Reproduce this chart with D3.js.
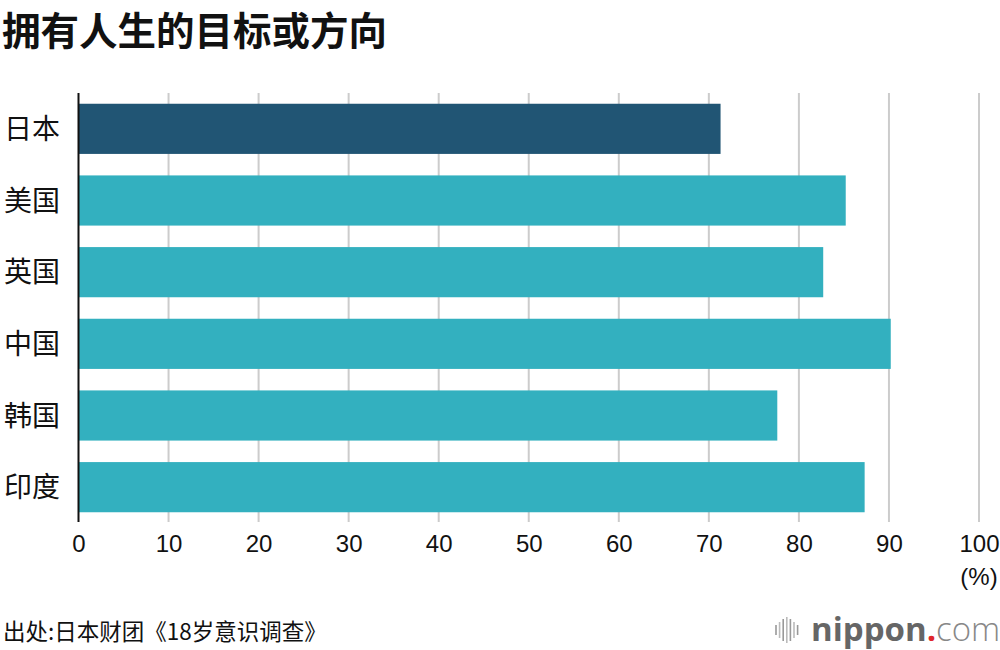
<!DOCTYPE html>
<html><head><meta charset="utf-8">
<script src="https://cdn.jsdelivr.net/npm/d3@7"></script>
<style>body{margin:0;background:#fff}svg{display:block}</style>
</head><body>
<svg id="c" width="1000" height="650"></svg>
<script>
const title = "拥有人生的目标或方向";
const categories = ["日本","美国","英国","中国","韩国","印度"];
const values = [71.3, 85.2, 82.7, 90.2, 77.6, 87.3];
const highlight = ["日本"];
const xTicks = [0,10,20,30,40,50,60,70,80,90,100];
const unitLabel = "(%)";
const source = "出处:日本财团《18岁意识调查》";

const svg = d3.select("#c");
const cjk = "'Noto Sans CJK SC','Noto Sans',sans-serif";
const latin = "'Liberation Sans',Arial,Helvetica,sans-serif";

const x = d3.scaleLinear().domain([0,100]).range([78.5, 979]);
const y = d3.scaleBand().domain(categories).range([93, 523]).paddingInner(0.3).paddingOuter(0.15);

svg.append("text").attr("x",2).attr("y",45).text(title)
  .attr("font-family",cjk).attr("font-weight",700).attr("font-size",38.5).attr("fill","#111");

// gridlines
svg.append("g").selectAll("line").data(xTicks.filter(d=>d>0)).join("line")
  .attr("x1",d=>x(d)).attr("x2",d=>x(d)).attr("y1",93).attr("y2",522)
  .attr("stroke","#cccccc").attr("stroke-width",2);

// bars
svg.append("g").selectAll("rect").data(categories).join("rect")
  .attr("x",x(0)).attr("y",d=>y(d)).attr("height",y.bandwidth())
  .attr("width",(d,i)=>x(values[i])-x(0))
  .attr("fill",d=>highlight.includes(d)?"#215574":"#33b0bf");

// zero axis line
svg.append("line").attr("x1",x(0)).attr("x2",x(0)).attr("y1",93).attr("y2",522)
  .attr("stroke","#111").attr("stroke-width",2);

// x axis labels
const ax = svg.append("g").attr("transform","translate(0,522)")
  .call(d3.axisBottom(x).tickValues(xTicks).tickSize(0).tickPadding(0).tickFormat(d3.format("d")));
ax.select(".domain").remove();
ax.selectAll("text").attr("y",30).attr("dy",0).attr("font-family",latin).attr("font-size",24).attr("fill","#111");

svg.append("text").attr("x",979).attr("y",585).attr("text-anchor","middle").text(unitLabel)
  .attr("font-family",latin).attr("font-size",24).attr("fill","#111");

// category labels
svg.append("g").selectAll("text").data(categories).join("text")
  .attr("x",4).attr("y",d=>y(d)+y.bandwidth()/2).attr("dy","0.36em")
  .text(d=>d).attr("font-family",cjk).attr("font-size",28).attr("fill","#111");

// source
svg.append("text").attr("x",3).attr("y",640).text(source)
  .attr("font-family",cjk).attr("font-size",22.5).attr("fill","#111");

// logo
const logo = svg.append("g");
const barsH = [10,16,22,26,22,16,10];
logo.selectAll("line").data(barsH).join("line")
  .attr("x1",(d,i)=>776+i*3.6).attr("x2",(d,i)=>776+i*3.6)
  .attr("y1",d=>630-d/2).attr("y2",d=>630+d/2)
  .attr("stroke",(d,i)=>i%2?"#bbb":"#999").attr("stroke-width",1.6);
const lt = logo.append("text").attr("x",811).attr("y",641).attr("font-family","'Open Sans',sans-serif").attr("font-size",33);
lt.append("tspan").text("nippon").attr("font-weight",700).attr("fill","#666");
lt.append("tspan").text(".").attr("font-weight",700).attr("fill","#e0262b");
lt.append("tspan").text("com").attr("font-weight",300).attr("fill","#888");
</script>
</body></html>
